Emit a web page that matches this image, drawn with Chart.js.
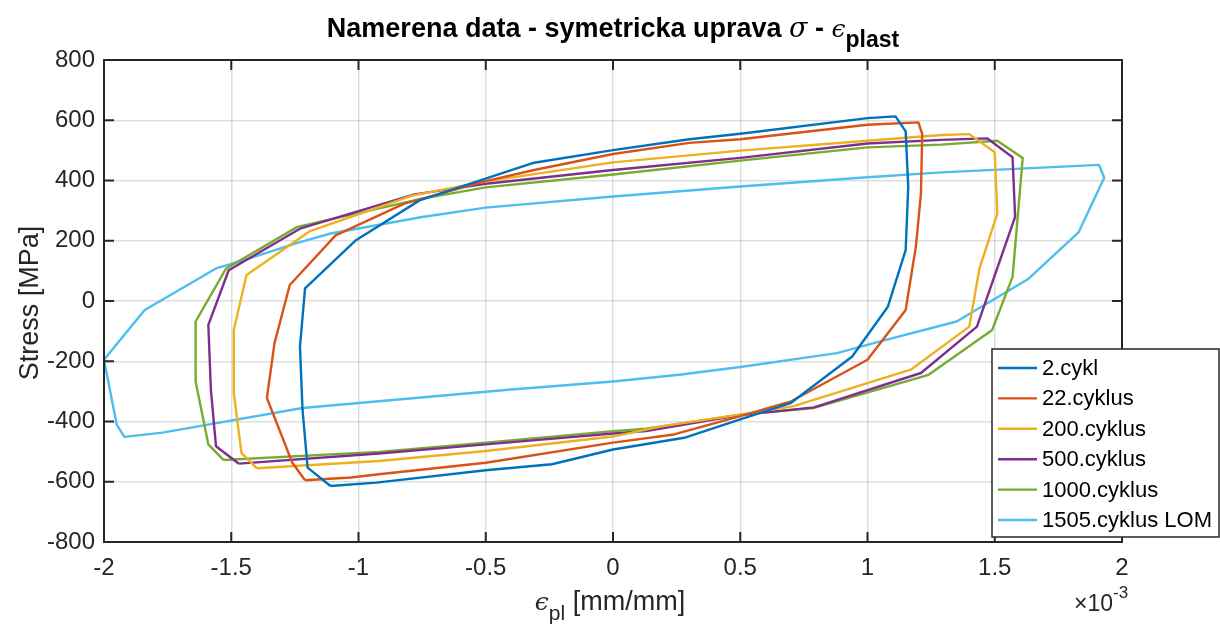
<!DOCTYPE html>
<html>
<head>
<meta charset="utf-8">
<script src="https://cdn.jsdelivr.net/npm/chart.js@4.4.0/dist/chart.umd.min.js"></script>
<style>
  html, body { margin: 0; padding: 0; background: #fff; }
</style>
</head>
<body>
<canvas id="graf" width="1220" height="630"></canvas>
<script>
// hodnoty v 1e-3 mm/mm (eps) a MPa (sigma)
const cyc2Eps = [-1.11, -1.20, -1.22, -1.23, -1.21, -1.01, -0.76, -0.31, 0, 0.30, 0.50, 1.00, 1.11, 1.15, 1.16, 1.15, 1.08, 0.94, 0.70, 0.50, 0.28, 0, -0.24, -0.50, -0.93, -1.11];
const cyc2Sig = [-614, -553, -360, -151, 42, 202, 334, 459, 501, 537, 555, 607, 613, 563, 378, 169, -19, -184, -338, -393, -454, -493, -542, -562, -603, -614];

const cyc22Eps = [-1.21, -1.26, -1.36, -1.33, -1.27, -1.09, -0.82, -0.50, -0.31, 0, 0.30, 0.50, 1.00, 1.20, 1.215, 1.21, 1.19, 1.15, 1.00, 0.70, 0.50, 0.24, 0, -0.50, -0.92, -1.03, -1.21];
const cyc22Sig = [-595, -537, -322, -140, 53, 218, 323, 398, 435, 488, 525, 537, 585, 593, 554, 356, 180, -30, -195, -333, -382, -443, -470, -537, -575, -586, -595];

const cyc200Eps = [-1.40, -1.46, -1.49, -1.49, -1.44, -1.19, -0.79, -0.50, 0, 0.50, 1.00, 1.29, 1.40, 1.50, 1.51, 1.44, 1.40, 1.17, 0.71, 0.50, 0.19, 0, -0.50, -0.92, -1.40];
const cyc200Sig = [-555, -504, -305, -96, 86, 232, 350, 397, 460, 499, 532, 551, 554, 494, 290, 108, -85, -228, -349, -377, -416, -450, -498, -531, -555];

const cyc500Eps = [-1.47, -1.56, -1.58, -1.59, -1.51, -1.23, -0.78, -0.50, 0, 0.50, 1.00, 1.29, 1.47, 1.57, 1.58, 1.43, 1.21, 0.79, 0.50, 0.13, 0, -0.50, -0.92, -1.47];
const cyc500Sig = [-540, -482, -294, -79, 102, 240, 354, 389, 435, 475, 523, 535, 540, 477, 279, -85, -239, -353, -379, -432, -440, -476, -506, -540];

const cyc1000Eps = [-1.53, -1.59, -1.64, -1.64, -1.52, -1.24, -0.75, -0.50, 0, 0.50, 1.00, 1.29, 1.51, 1.61, 1.57, 1.49, 1.24, 0.79, 0.50, 0.13, 0, -0.50, -0.92, -1.53];
const cyc1000Sig = [-528, -476, -267, -68, 108, 246, 340, 377, 420, 466, 510, 519, 532, 475, 80, -96, -245, -355, -377, -424, -432, -470, -501, -528];

const cyc1505Eps = [-2.00, -1.84, -1.56, -1.45, -1.24, -1.11, -0.75, -0.50, 0, 0.50, 1.00, 1.29, 1.91, 1.93, 1.83, 1.63, 1.35, 1.05, 0.88, 0.50, 0.26, 0, -0.40, -1.22, -1.77, -1.92, -1.95, -2.00];
const cyc1505Sig = [-195, -30, 108, 136, 193, 224, 279, 310, 347, 380, 411, 427, 452, 409, 229, 72, -68, -134, -173, -219, -245, -267, -294, -355, -437, -451, -410, -195];

const nazvy = ['2.cykl', '22.cyklus', '200.cyklus', '500.cyklus', '1000.cyklus', '1505.cyklus LOM'];
const barvy = ['#0072BD', '#D95319', '#EDB120', '#7E2F8E', '#77AC30', '#4DBEEE'];
const epsData = [cyc2Eps, cyc22Eps, cyc200Eps, cyc500Eps, cyc1000Eps, cyc1505Eps];
const sigData = [cyc2Sig, cyc22Sig, cyc200Sig, cyc500Sig, cyc1000Sig, cyc1505Sig];

const xTicks = [-2, -1.5, -1, -0.5, 0, 0.5, 1, 1.5, 2];
const yTicks = [-800, -600, -400, -200, 0, 200, 400, 600, 800];

const FONT = 'Arial, "Liberation Sans", sans-serif';
const TXT = '#262626';

const datasets = nazvy.map((n, i) => ({
  label: n,
  data: epsData[i].map((e, j) => ({ x: e, y: sigData[i][j] })),
  showLine: true,
  borderColor: barvy[i],
  backgroundColor: barvy[i],
  borderWidth: 2.4,
  borderJoinStyle: 'round',
  pointRadius: 0,
  tension: 0
}));

// ramecek, ticky dovnitr, titulky, legenda
const matlabLook = {
  id: 'matlabLook',
  afterDraw(chart) {
    const ctx = chart.ctx;
    const a = chart.chartArea;
    const xs = chart.scales.x, ys = chart.scales.y;
    ctx.save();
    ctx.strokeStyle = TXT;
    ctx.lineWidth = 2;
    // ticks
    ctx.beginPath();
    xTicks.forEach(v => {
      const px = xs.getPixelForValue(v);
      ctx.moveTo(px, a.bottom); ctx.lineTo(px, a.bottom - 10);
      ctx.moveTo(px, a.top); ctx.lineTo(px, a.top + 10);
    });
    yTicks.forEach(v => {
      const py = ys.getPixelForValue(v);
      ctx.moveTo(a.left, py); ctx.lineTo(a.left + 10, py);
      ctx.moveTo(a.right, py); ctx.lineTo(a.right - 10, py);
    });
    ctx.stroke();
    ctx.strokeRect(a.left, a.top, a.right - a.left, a.bottom - a.top);

    ctx.fillStyle = '#000';
    ctx.textBaseline = 'alphabetic';
    // titulek
    const parts = [
      { t: 'Namerena data - symetricka uprava ', f: 'bold 27px ' + FONT, dy: 0 },
      { t: 'σ', f: 'italic 27px "DejaVu Serif", serif', dy: 0 },
      { t: ' - ', f: 'bold 27px ' + FONT, dy: 0 },
      { t: 'ϵ', f: 'italic 25px "DejaVu Serif", serif', dy: 0 },
      { t: 'plast', f: 'bold 23px ' + FONT, dy: 10 }
    ];
    let w = 0;
    parts.forEach(p => { ctx.font = p.f; p.w = ctx.measureText(p.t).width; w += p.w; });
    let x0 = (a.left + a.right) / 2 - w / 2;
    parts.forEach(p => { ctx.font = p.f; ctx.fillText(p.t, x0, 37 + p.dy); x0 += p.w; });

    // popis osy x
    ctx.fillStyle = TXT;
    const xp = [
      { t: 'ϵ', f: 'italic 25px "DejaVu Serif", serif', dy: 0 },
      { t: 'pl', f: '21px ' + FONT, dy: 10 },
      { t: ' [mm/mm]', f: '27px ' + FONT, dy: 0 }
    ];
    w = 0;
    xp.forEach(p => { ctx.font = p.f; p.w = ctx.measureText(p.t).width; w += p.w; });
    x0 = (a.left + a.right) / 2 - 3 - w / 2;
    xp.forEach(p => { ctx.font = p.f; ctx.fillText(p.t, x0, 610 + p.dy); x0 += p.w; });

    // exponent
    ctx.font = '23px ' + FONT;
    ctx.fillText('×10', 1074, 611);
    const ew = ctx.measureText('×10').width;
    ctx.font = '17px ' + FONT;
    ctx.fillText('-3', 1074 + ew, 598);

    // popis osy y
    ctx.save();
    ctx.translate(29, (a.top + a.bottom) / 2 + 2);
    ctx.rotate(-Math.PI / 2);
    ctx.font = '27px ' + FONT;
    ctx.textAlign = 'center';
    ctx.fillText('Stress [MPa]', 0, 9);
    ctx.restore();

    // legenda
    const lx = 992, ly = 349, lw = 227, lh = 188;
    ctx.fillStyle = '#fff';
    ctx.fillRect(lx, ly, lw, lh);
    ctx.lineWidth = 1.5;
    ctx.strokeStyle = TXT;
    ctx.strokeRect(lx, ly, lw, lh);
    ctx.font = '22px ' + FONT;
    ctx.textBaseline = 'middle';
    chart.data.datasets.forEach((ds, i) => {
      const ry = 368 + i * 30.4;
      ctx.strokeStyle = ds.borderColor;
      ctx.lineWidth = 2.4;
      ctx.beginPath();
      ctx.moveTo(998, ry); ctx.lineTo(1037, ry);
      ctx.stroke();
      ctx.fillStyle = '#000';
      ctx.fillText(ds.label, 1042, ry + 1);
    });
    ctx.restore();
  }
};

new Chart(document.getElementById('graf'), {
  type: 'scatter',
  data: { datasets: datasets },
  options: {
    responsive: false,
    animation: false,
    layout: { padding: { top: 60, right: 98, left: 0, bottom: 0 } },
    plugins: {
      legend: { display: false },
      title: { display: false },
      tooltip: { enabled: false }
    },
    scales: {
      x: {
        type: 'linear',
        min: -2,
        max: 2,
        afterFit: s => { s.height = 88; },
        afterBuildTicks: s => { s.ticks = xTicks.map(v => ({ value: v })); },
        grid: { color: 'rgba(38,38,38,0.15)', lineWidth: 1.5, drawTicks: false },
        border: { display: false },
        ticks: {
          color: TXT,
          font: { family: FONT, size: 24 },
          padding: 12,
          maxRotation: 0,
          callback: v => String(v)
        }
      },
      y: {
        type: 'linear',
        min: -800,
        max: 800,
        afterFit: s => { s.width = 104; },
        afterBuildTicks: s => { s.ticks = yTicks.map(v => ({ value: v })); },
        grid: { color: 'rgba(38,38,38,0.15)', lineWidth: 1.5, drawTicks: false },
        border: { display: false },
        ticks: {
          color: TXT,
          font: { family: FONT, size: 24 },
          padding: 9,
          callback: v => String(v)
        }
      }
    }
  },
  plugins: [matlabLook]
});
</script>
</body>
</html>
